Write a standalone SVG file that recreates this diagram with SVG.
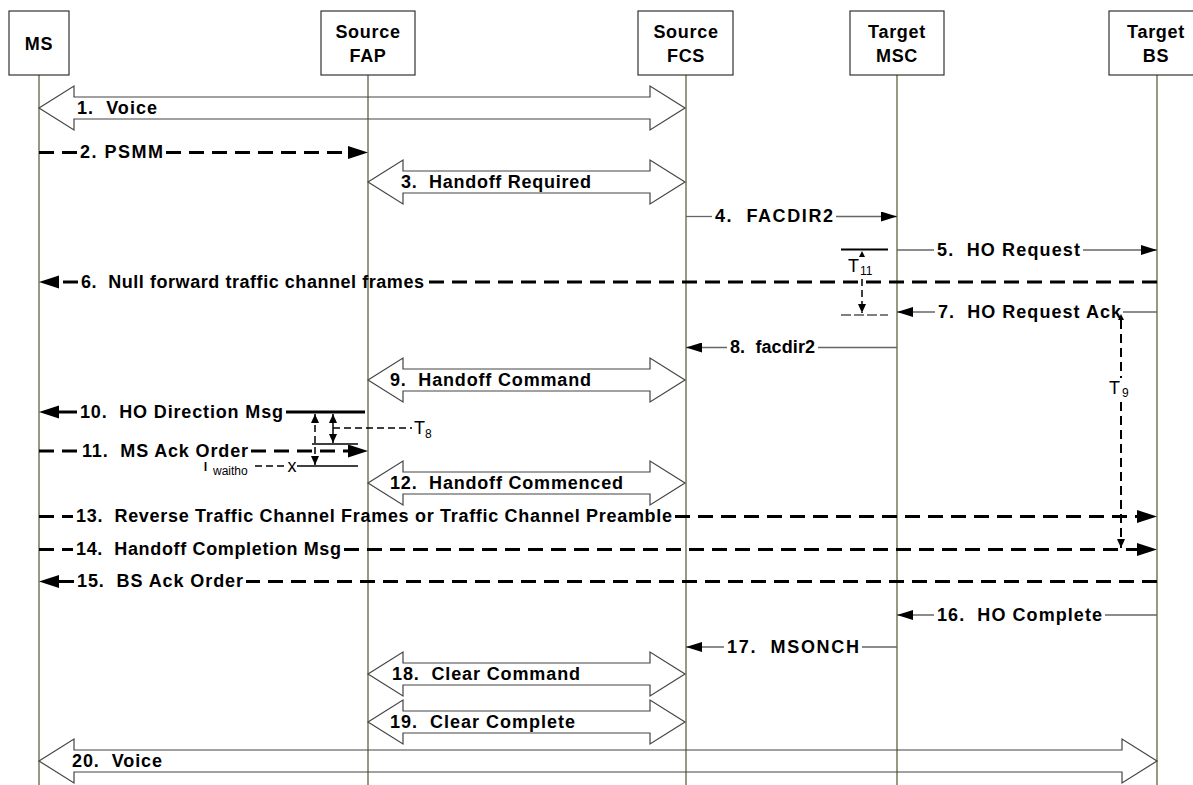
<svg xmlns="http://www.w3.org/2000/svg" width="1193" height="785" viewBox="0 0 1193 785">
<style>
.box{fill:#fff;stroke:#333;stroke-width:1.2}
.life{stroke:#77775a;stroke-width:1.5}
.hdr{font-family:"Liberation Sans",Arial,sans-serif;font-weight:bold;font-size:18px;letter-spacing:0.7px;text-anchor:middle;fill:#000}
.lbl{font-family:"Liberation Sans",Arial,sans-serif;font-weight:bold;font-size:18px;fill:#000;white-space:pre}
.tm{font-family:"Liberation Sans",Arial,sans-serif;font-size:18px;fill:#000}
.sub{font-family:"Liberation Sans",Arial,sans-serif;font-size:12px;fill:#000}
.blk{fill:none;stroke:#444;stroke-width:1.2}
.thin{fill:none;stroke:#666;stroke-width:1.3}
.dash{fill:none;stroke:#000;stroke-width:3;stroke-dasharray:15 8}
.thick{fill:none;stroke:#000;stroke-width:3}
.tl{fill:none;stroke:#000;stroke-width:1.5}
.tld{fill:none;stroke:#000;stroke-width:1.5;stroke-dasharray:7 4}
.t9{fill:none;stroke:#000;stroke-width:2;stroke-dasharray:9 5}
</style>
<defs>
<marker id="ah" markerUnits="userSpaceOnUse" markerWidth="16" markerHeight="10" refX="16" refY="5" orient="auto"><path d="M0,0 L16,5 L0,10 z" fill="#000"/></marker>
<marker id="ahk" markerUnits="userSpaceOnUse" markerWidth="21" markerHeight="14" refX="12" refY="6.5" orient="auto"><path d="M0,0 L20,6.5 L0,13 z" fill="#000"/></marker>
<marker id="ahs" markerUnits="userSpaceOnUse" markerWidth="10" markerHeight="9" refX="9" refY="4" orient="auto-start-reverse"><path d="M0,0 L9,4 L0,8 z" fill="#000"/></marker>
<clipPath id="clipT"><rect x="195" y="462" width="17" height="20"/></clipPath>
</defs>
<rect width="1193" height="785" fill="#fff"/>

<g id="node-ms">
<line class="life" x1="39" y1="75" x2="39" y2="785"/>
<rect class="box" x="9" y="11" width="60" height="64"/>
<text class="hdr" x="39" y="50">MS</text>
</g>
<g id="node-source-fap">
<line class="life" x1="368" y1="75" x2="368" y2="785"/>
<rect class="box" x="321" y="11" width="94" height="64"/>
<text class="hdr" x="368" y="37.5">Source</text>
<text class="hdr" x="368" y="62">FAP</text>
</g>
<g id="node-source-fcs">
<line class="life" x1="686" y1="75" x2="686" y2="785"/>
<rect class="box" x="638" y="11" width="95" height="64"/>
<text class="hdr" x="686" y="37.5">Source</text>
<text class="hdr" x="686" y="62">FCS</text>
</g>
<g id="node-target-msc">
<line class="life" x1="897" y1="75" x2="897" y2="785"/>
<rect class="box" x="850" y="11" width="94" height="64"/>
<text class="hdr" x="897" y="37.5">Target</text>
<text class="hdr" x="897" y="62">MSC</text>
</g>
<g id="node-target-bs">
<line class="life" x1="1157" y1="75" x2="1157" y2="785"/>
<rect class="box" x="1109" y="11" width="94" height="64"/>
<text class="hdr" x="1156" y="37.5">Target</text>
<text class="hdr" x="1156" y="62">BS</text>
</g>

<g id="connectors">
<!-- 1 -->
<polygon class="blk" points="39,108 74,86 74,97 650,97 650,86 685,108 650,130 650,119 74,119 74,130"/>
<text class="lbl" x="77" y="114" textLength="80">1.  Voice</text>
<!-- 2 -->
<path class="dash" d="M39,152.5 H77"/>
<path class="dash" d="M166,152.5 H360" marker-end="url(#ahk)"/>
<text class="lbl" x="80" y="158" textLength="83">2. PSMM</text>
<!-- 3 -->
<polygon class="blk" points="368,182 403,160 403,171 650,171 650,160 685,182 650,204 650,193 403,193 403,204"/>
<text class="lbl" x="401" y="188" textLength="190">3.  Handoff Required</text>
<!-- 4 -->
<path class="thin" d="M686,216.5 H712"/>
<path class="thin" d="M836,216.5 H897" marker-end="url(#ah)"/>
<text class="lbl" x="715" y="222" textLength="118">4.  FACDIR2</text>
<!-- 5 -->
<path class="thin" d="M897,250 H934"/>
<path class="thin" d="M1083,250 H1157" marker-end="url(#ah)"/>
<text class="lbl" x="937" y="255.5" textLength="143">5.  HO Request</text>
<!-- T11 -->
<path d="M841,249.5 H888" stroke="#000" stroke-width="2"/>
<polygon points="862,251 859,257 865,257" fill="#000"/>
<text class="tm" x="848" y="272">T</text>
<text class="sub" x="860" y="275">11</text>
<path class="tld" d="M862,279 V313" stroke-dasharray="6 3" marker-end="url(#ahs)"/>
<path d="M841,315 H888" stroke="#000" stroke-width="1.2" stroke-dasharray="10 3"/>
<!-- 6 -->
<path class="dash" d="M1157,282 H427"/>
<path class="dash" d="M78,282 H47" marker-end="url(#ahk)"/>
<text class="lbl" x="81" y="287.5" textLength="343">6.  Null forward traffic channel frames</text>
<!-- 7 -->
<path class="thin" d="M1157,312 H1123"/>
<path class="thin" d="M935,312 H897" marker-end="url(#ah)"/>
<text class="lbl" x="938" y="317.5" textLength="183">7.  HO Request Ack</text>
<!-- T9 -->
<polygon points="1121,314 1118,320 1124,320" fill="#000"/>
<path class="t9" d="M1121,320 V378"/>
<path class="t9" d="M1121,402 V548" marker-end="url(#ahs)"/>
<text class="tm" x="1109" y="394">T</text>
<text class="sub" x="1122" y="397">9</text>
<!-- 8 -->
<path class="thin" d="M897,347.5 H818"/>
<path class="thin" d="M727,347.5 H686" marker-end="url(#ah)"/>
<text class="lbl" x="730" y="353" textLength="85">8.  facdir2</text>
<!-- 9 -->
<polygon class="blk" points="368,380 403,358 403,369 650,369 650,358 685,380 650,402 650,391 403,391 403,402"/>
<text class="lbl" x="390" y="386" textLength="201">9.  Handoff Command</text>
<!-- 10 -->
<path class="thick" d="M365,412 H286"/>
<path class="thick" d="M77,412 H47" marker-end="url(#ahk)"/>
<text class="lbl" x="80" y="417.5" textLength="203">10.  HO Direction Msg</text>
<!-- T8 -->
<path class="tl" d="M333,414 V443" marker-start="url(#ahs)" marker-end="url(#ahs)"/>
<path class="tld" d="M333,428 H412"/>
<text class="tm" x="414" y="434" font-size="16">T</text>
<text class="sub" x="425" y="438">8</text>
<path class="tl" d="M312,444 H358"/>
<!-- Twaitho -->
<path class="tld" d="M315,414 V465" stroke-dasharray="6 3" marker-start="url(#ahs)" marker-end="url(#ahs)"/>
<path class="tl" d="M297,466 H358"/>
<path class="tld" d="M255,466 H287"/>
<text class="tm" x="292" y="472" font-size="16" text-anchor="middle">x</text>
<text class="tm" x="200" y="471" clip-path="url(#clipT)">T</text>
<text class="sub" x="213" y="475" font-size="13">waitho</text>
<!-- 11 -->
<path class="dash" d="M39,451 H79"/>
<path class="dash" d="M251,451 H360" marker-end="url(#ahk)"/>
<text class="lbl" x="82" y="456.5" textLength="166">11.  MS Ack Order</text>
<!-- 12 -->
<polygon class="blk" points="368,483 403,461 403,472 650,472 650,461 685,483 650,505 650,494 403,494 403,505"/>
<text class="lbl" x="390" y="489" textLength="233">12.  Handoff Commenced</text>
<!-- 13 -->
<path class="dash" d="M39,516.5 H73"/>
<path class="dash" d="M675,516.5 H1149" marker-end="url(#ahk)"/>
<text class="lbl" x="76" y="522" textLength="596">13.  Reverse Traffic Channel Frames or Traffic Channel Preamble</text>
<!-- 14 -->
<path class="dash" d="M39,549.5 H73"/>
<path class="dash" d="M344,549.5 H1149" marker-end="url(#ahk)"/>
<text class="lbl" x="76" y="555" textLength="265">14.  Handoff Completion Msg</text>
<!-- 15 -->
<path class="dash" d="M1157,581.5 H246"/>
<path class="dash" d="M74,581.5 H47" marker-end="url(#ahk)"/>
<text class="lbl" x="77" y="587" textLength="166">15.  BS Ack Order</text>
<!-- 16 -->
<path class="thin" d="M1157,615 H1105"/>
<path class="thin" d="M934,615 H897" marker-end="url(#ah)"/>
<text class="lbl" x="937" y="620.5" textLength="165">16.  HO Complete</text>
<!-- 17 -->
<path class="thin" d="M897,647 H862"/>
<path class="thin" d="M724,647 H686" marker-end="url(#ah)"/>
<text class="lbl" x="727" y="652.5" textLength="132">17.  MSONCH</text>
<!-- 18 -->
<polygon class="blk" points="368,674 403,652 403,663 650,663 650,652 685,674 650,696 650,685 403,685 403,696"/>
<text class="lbl" x="392" y="680" textLength="188">18.  Clear Command</text>
<!-- 19 -->
<polygon class="blk" points="368,722 403,700 403,711 650,711 650,700 685,722 650,744 650,733 403,733 403,744"/>
<text class="lbl" x="390" y="728" textLength="185">19.  Clear Complete</text>
<!-- 20 -->
<polygon class="blk" points="39,761 74,739 74,750 1122,750 1122,739 1157,761 1122,783 1122,772 74,772 74,783"/>
<text class="lbl" x="72" y="767" textLength="90">20.  Voice</text>
</g>
</svg>
